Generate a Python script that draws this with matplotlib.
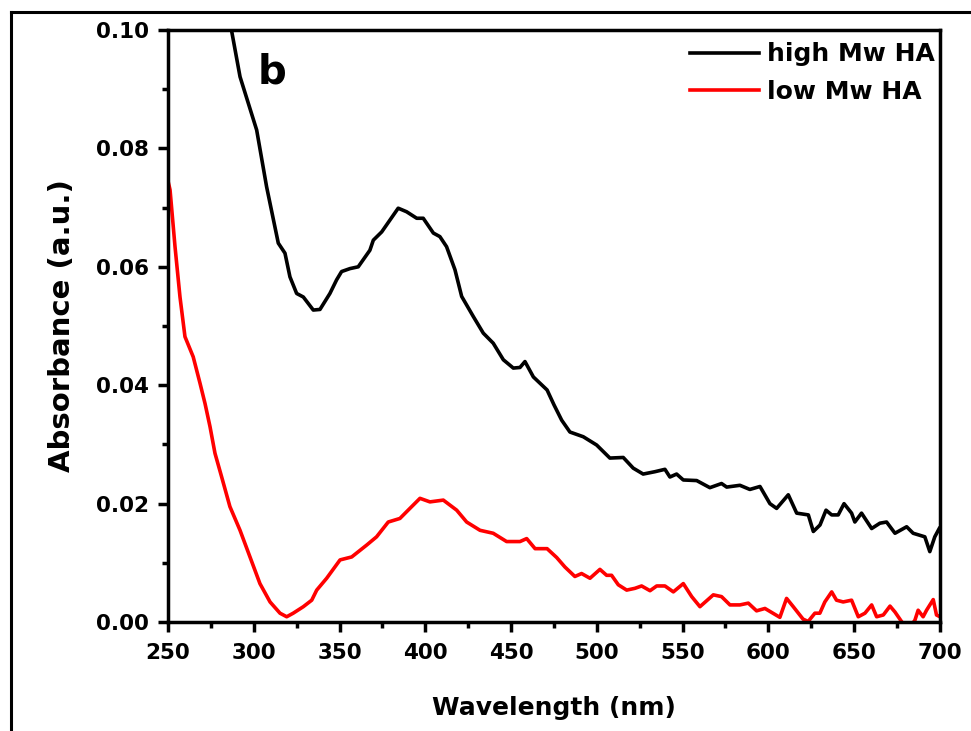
import matplotlib
matplotlib.use("Agg")
import matplotlib.pyplot as plt
from matplotlib.lines import Line2D
from matplotlib.ticker import MultipleLocator, FormatStrFormatter

plt.rcParams['font.family'] = 'DejaVu Sans'
plt.rcParams['font.weight'] = 'bold'

# high Mw HA (black)
wl_high = [285, 287, 292, 301.7, 307.5, 314.3, 318.2, 321.1, 325, 328.9, 334.7, 338.6,
           344.4, 348.3, 351.2, 356.1, 360.9, 367.7, 369.7, 374.6, 379.4, 384.2, 389.1,
           395, 398.8, 404.7, 408.5, 412.4, 417.3, 421.2, 428, 433.8, 439.6, 445.5,
           451.3, 455.2, 458.1, 463, 467, 471, 475, 479.5, 484.3, 492.1, 499.9, 507.6,
           515.4, 521.2, 527, 533.9, 539.7, 542.6, 546.5, 550.4, 558.2, 565.9, 572.7,
           575.7, 583.4, 589.2, 595.1, 600.9, 604.8, 611.6, 616.5, 623.3, 626.2, 630.1,
           633.6, 636.9, 640.7, 644.1, 648.5, 650.4, 654.3, 660.2, 665, 668.9, 673.8,
           680.6, 684.4, 691.2, 694.1, 697, 699.6]
abs_high = [0.1035, 0.1000, 0.0921, 0.0831, 0.0735, 0.0640, 0.0623, 0.0583, 0.0555, 0.0549,
            0.0527, 0.0528, 0.0555, 0.0578, 0.0592, 0.0597, 0.0600, 0.0628, 0.0645, 0.0659,
            0.0679, 0.0699, 0.0693, 0.0682, 0.0682, 0.0657, 0.0651, 0.0634, 0.0595, 0.0550,
            0.0516, 0.0488, 0.0471, 0.0443, 0.0429, 0.0430, 0.0440, 0.0414, 0.0403, 0.0392,
            0.0367, 0.0341, 0.0321, 0.0313, 0.0299, 0.0277, 0.0278, 0.0260, 0.0250, 0.0254,
            0.0258, 0.0245, 0.0250, 0.0240, 0.0239, 0.0227, 0.0234, 0.0228, 0.0231, 0.0224,
            0.0229, 0.0200, 0.0192, 0.0215, 0.0184, 0.0181, 0.0153, 0.0164, 0.0189, 0.0181,
            0.0181, 0.0200, 0.0184, 0.0169, 0.0184, 0.0158, 0.0167, 0.0169, 0.0150, 0.0161,
            0.0150, 0.0144, 0.0119, 0.0144, 0.0158]

# low Mw HA (red)
wl_low = [250, 251.2, 254.1, 257, 259.9, 264.7, 268.7, 271.6, 274.5, 277.4, 281.3, 286.1,
          292, 297.8, 303.6, 309.5, 315.3, 319.2, 323, 328.9, 333.8, 336.7, 342.5, 350.3,
          357.1, 365.8, 371.6, 378.4, 385.2, 390, 396.9, 402.7, 410.5, 418.3, 424.1,
          431.9, 439.6, 447.4, 455.2, 459.1, 464, 471, 476.6, 481.4, 487.2, 491.1, 496,
          501.8, 505.7, 508.6, 512.5, 517.4, 522.2, 526.1, 531, 534.9, 539.7, 544.6,
          550.4, 555.3, 560.1, 567.9, 572.7, 577.6, 583.4, 588.3, 593.1, 598, 606.7,
          610.6, 614.5, 620.2, 623.2, 627.1, 630, 632.9, 636.9, 639.7, 643.6, 648.5,
          652.4, 656.3, 660.2, 663.1, 667, 670.9, 673.8, 677.6, 681.5, 685.4, 687.3,
          690.2, 692.2, 696.1, 698, 700]
abs_low = [0.0745, 0.0730, 0.0634, 0.0549, 0.0482, 0.0448, 0.0403, 0.0369, 0.0330, 0.0285,
           0.0245, 0.0195, 0.0155, 0.0110, 0.0065, 0.0034, 0.0015, 0.0009, 0.0015, 0.0026,
           0.0037, 0.0054, 0.0074, 0.0105, 0.0110, 0.0130, 0.0144, 0.0169, 0.0175, 0.0189,
           0.0209, 0.0203, 0.0206, 0.0189, 0.0169, 0.0155, 0.0150, 0.0136, 0.0136, 0.0141,
           0.0124, 0.0124, 0.0109, 0.0093, 0.0077, 0.0082, 0.0074, 0.0089, 0.0079, 0.0079,
           0.0063, 0.0054, 0.0057, 0.0061, 0.0053, 0.0061, 0.0061, 0.0051, 0.0065, 0.0043,
           0.0026, 0.0046, 0.0043, 0.0029, 0.0029, 0.0032, 0.0019, 0.0023, 0.0008, 0.0040,
           0.0026, 0.0005, 0.0001, 0.0015, 0.0015, 0.0034, 0.0051, 0.0037, 0.0034, 0.0037,
           0.0009, 0.0015, 0.0029, 0.0009, 0.0012, 0.0027, 0.0017, 0.0001, -0.0012, 0.0003,
           0.0020, 0.0009, 0.0020, 0.0038, 0.0012, 0.0009]

fig = plt.figure(figsize=(9.71, 7.31), dpi=100)
ax = fig.add_axes([0.173, 0.149, 0.795, 0.810])

ax.plot(wl_high, abs_high, color='black', lw=2.6, label='high Mw HA')
ax.plot(wl_low, abs_low, color='red', lw=2.6, label='low Mw HA')

ax.set_xlim(250, 700)
ax.set_ylim(0, 0.10)
ax.xaxis.set_major_locator(MultipleLocator(50))
ax.xaxis.set_minor_locator(MultipleLocator(25))
ax.yaxis.set_major_locator(MultipleLocator(0.02))
ax.yaxis.set_minor_locator(MultipleLocator(0.01))
ax.yaxis.set_major_formatter(FormatStrFormatter('%.2f'))

for s in ax.spines.values():
    s.set_linewidth(2.5)
ax.tick_params(which='both', direction='out', width=2.5, top=False, right=False)
ax.tick_params(which='major', length=7, labelsize=15.5)
ax.tick_params(axis='x', which='major', pad=8)
ax.tick_params(axis='y', which='major', pad=7)
ax.tick_params(which='minor', length=4)

ax.set_xlabel('Wavelength (nm)', fontsize=18, fontweight='bold', labelpad=24)
ax.set_ylabel('Absorbance (a.u.)', fontsize=21, fontweight='bold', labelpad=14)

ax.text(0.1166, 0.909, 'b', transform=ax.transAxes, fontsize=29, fontweight='bold',
        va='baseline', ha='left')

ax.legend(loc='upper right', bbox_to_anchor=(1.009, 1.0), frameon=False,
          fontsize=18, handlelength=2.75, handletextpad=0.3, labelspacing=0.55,
          borderaxespad=0.1, borderpad=0.4)

# outer frame (only left and top edges are inside the picture)
x0 = 11 / 971
y0 = 1 - 12 / 731
fig.add_artist(Line2D([x0, x0], [0, y0], color='black', lw=2.2))
fig.add_artist(Line2D([x0, 1], [y0, y0], color='black', lw=2.2))

fig.savefig('out.png', dpi=100)
